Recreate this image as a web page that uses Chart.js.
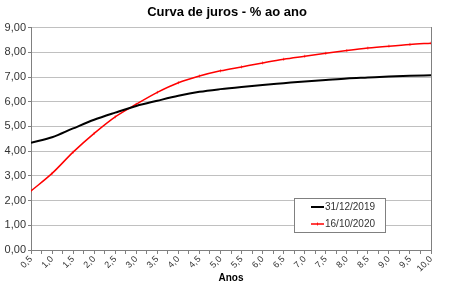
<!DOCTYPE html>
<html>
<head>
<meta charset="utf-8">
<script src="https://cdn.jsdelivr.net/npm/chart.js@4/dist/chart.umd.min.js"></script>
<style>
  html, body { margin: 0; padding: 0; background: #fff; }
  #wrap { width: 454px; height: 284px; position: relative; }
</style>
</head>
<body>
<div id="wrap"><canvas id="curva" width="454" height="284"></canvas></div>
<script>
// Curva de juros
const anos = [0.5, 1.0, 1.5, 2.0, 2.5, 3.0, 3.5, 4.0, 4.5, 5.0,
              5.5, 6.0, 6.5, 7.0, 7.5, 8.0, 8.5, 9.0, 9.5, 10.0];
const taxas2019 = [4.34, 4.56, 4.92, 5.27, 5.56, 5.83, 6.04, 6.24, 6.40, 6.51,
                   6.60, 6.68, 6.75, 6.82, 6.88, 6.94, 6.98, 7.02, 7.05, 7.07];
const taxas2020 = [2.39, 3.10, 3.96, 4.72, 5.39, 5.90, 6.38, 6.77, 7.04, 7.25,
                   7.41, 7.57, 7.72, 7.84, 7.96, 8.07, 8.17, 8.25, 8.32, 8.37];
const seriesNomes = ['31/12/2019', '16/10/2020'];
const seriesCores = ['#000000', '#ff0000'];

const virgula = (v, casas) => v.toFixed(casas).replace('.', ',');

// legenda desenhada dentro da área do gráfico (como no Excel)
const legendaInterna = {
    id: 'legendaInterna',
    afterDraw(chart) {
        const ctx = chart.ctx;
        const x0 = 294, y0 = 198, w = 91, h = 34;
        ctx.save();
        ctx.fillStyle = '#fff';
        ctx.fillRect(x0, y0, w, h);
        ctx.strokeStyle = '#808080';
        ctx.lineWidth = 1;
        ctx.strokeRect(x0 + 0.5, y0 + 0.5, w, h);
        ctx.font = '10px "Liberation Sans", Arial, sans-serif';
        ctx.textBaseline = 'middle';
        chart.data.datasets.forEach((ds, i) => {
            const y = y0 + 9 + i * 17;
            ctx.strokeStyle = ds.borderColor;
            ctx.lineWidth = i === 0 ? 2 : 1.5;
            ctx.beginPath();
            ctx.moveTo(x0 + 17, y);
            ctx.lineTo(x0 + 30, y);
            ctx.stroke();
            if (i === 1) {
                ctx.lineWidth = 0.8;
                ctx.beginPath();
                ctx.moveTo(x0 + 23.5, y - 1.5);
                ctx.lineTo(x0 + 23.5, y + 1.5);
                ctx.stroke();
            }
            ctx.fillStyle = '#333';
            ctx.fillText(ds.label, x0 + 31, y);
        });
        ctx.restore();
    }
};

const ctx = document.getElementById('curva').getContext('2d');
new Chart(ctx, {
    type: 'line',
    data: {
        datasets: [
            {
                label: seriesNomes[0],
                data: anos.map((a, i) => ({ x: a, y: taxas2019[i] })),
                borderColor: seriesCores[0],
                borderWidth: 2,
                pointRadius: 0,
                cubicInterpolationMode: 'monotone'
            },
            {
                label: seriesNomes[1],
                data: anos.map((a, i) => ({ x: a, y: taxas2020[i] })),
                borderColor: seriesCores[1],
                backgroundColor: seriesCores[1],
                borderWidth: 1.5,
                pointStyle: 'line',
                rotation: 90,
                pointRadius: 1.5,
                pointBorderWidth: 0.6,
                cubicInterpolationMode: 'monotone'
            }
        ]
    },
    options: {
        responsive: false,
        animation: false,
        devicePixelRatio: 1,
        layout: { padding: 0 },
        plugins: {
            legend: { display: false },
            tooltip: { enabled: false },
            title: {
                display: true,
                text: 'Curva de juros - % ao ano',
                color: '#000',
                font: { family: '"Liberation Sans", Arial, sans-serif', size: 13, weight: 'bold' },
                padding: { top: 5, bottom: 7 }
            }
        },
        scales: {
            x: {
                type: 'linear',
                min: 0.5,
                max: 10,
                ticks: {
                    stepSize: 0.25,
                    autoSkip: false,
                    minRotation: 45,
                    maxRotation: 45,
                    padding: 0,
                    color: '#333',
                    font: { family: '"Liberation Sans", Arial, sans-serif', size: 9 },
                    callback: v => (Math.round(v * 100) % 50 === 0 ? virgula(v, 1) : '')
                },
                grid: { drawOnChartArea: false, tickLength: 4, color: '#808080' },
                border: { color: '#808080' },
                title: {
                    display: true,
                    text: 'Anos',
                    color: '#000',
                    padding: 0,
                    font: { family: '"Liberation Sans", Arial, sans-serif', size: 10, weight: 'bold' }
                },
                afterFit: s => { s.height = 34; }
            },
            y: {
                min: 0,
                max: 9,
                ticks: {
                    stepSize: 1,
                    autoSkip: false,
                    padding: 2,
                    color: '#333',
                    font: { family: '"Liberation Sans", Arial, sans-serif', size: 11 },
                    callback: v => virgula(v, 2)
                },
                grid: { color: '#c0c0c0', tickLength: 3, tickColor: '#808080' },
                border: { color: '#808080' },
                afterFit: s => { s.width = 31; }
            },
            // eixo vazio à direita: só a borda da área do gráfico
            yDir: {
                position: 'right',
                min: 0,
                max: 9,
                ticks: { display: false },
                grid: { display: false },
                border: { color: '#808080' },
                afterFit: s => { s.width = 23; }
            }
        }
    },
    plugins: [legendaInterna]
});
</script>
</body>
</html>
